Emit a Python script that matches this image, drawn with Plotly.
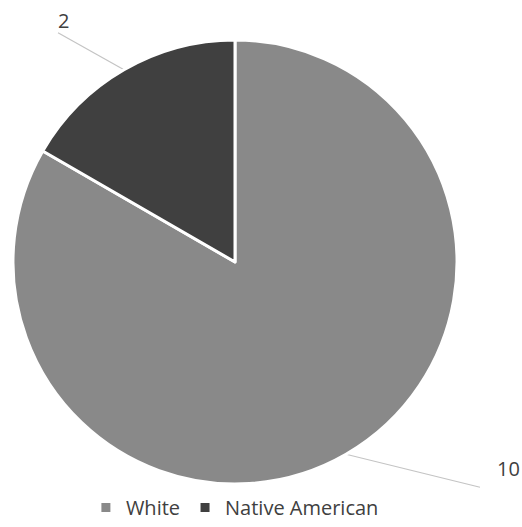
import math
import plotly.graph_objects as go

# ---- data ----
categories = ["White", "Native American"]
values = [10, 2]
colors = ["#898989", "#404040"]

# ---- geometry / style ----
W, H = 522, 527
CX, CY, R = 235, 262, 222          # pie centre and radius in px
FONT = "Open Sans"
TEXT_COLOR = "#404040"
LINE_COLOR = "#c4c4c4"
# leader line end offset (from slice edge) and text offset (from line end), px
LABEL_STYLE = {
    "White": {"line": (134, 33), "text": (28, -19)},
    "Native American": {"line": (-66, -37), "text": (5, -12)},
}

fig = go.Figure()

fig.add_trace(go.Pie(
    labels=categories,
    values=values,
    sort=False,
    direction="clockwise",
    rotation=0,
    marker=dict(colors=colors, line=dict(color="white", width=3)),
    textinfo="none",
    hoverinfo="label+value",
    domain=dict(x=[(CX - R) / W, (CX + R) / W],
                y=[(H - CY - R) / H, (H - CY + R) / H]),
    showlegend=True,
))

# data labels with leader lines, positioned from each slice's mid-angle
total = sum(values)
cum = 0
annotations = []
for cat, v in zip(categories, values):
    theta = 2 * math.pi * (cum + v / 2) / total
    cum += v
    ex = CX + R * math.sin(theta)
    ey = CY - R * math.cos(theta)
    st = LABEL_STYLE[cat]
    lx, ly = ex + st["line"][0], ey + st["line"][1]
    fig.add_trace(go.Scatter(
        x=[ex, lx], y=[ey, ly], mode="lines",
        line=dict(color=LINE_COLOR, width=1.2),
        hoverinfo="skip", showlegend=False,
        xaxis="x", yaxis="y",
    ))
    annotations.append(dict(
        x=lx + st["text"][0], y=ly + st["text"][1],
        xref="x", yref="y", text=str(v), showarrow=False,
        font=dict(family=FONT, size=20, color=TEXT_COLOR),
        xanchor="center", yanchor="middle",
    ))

fig.update_layout(
    width=W, height=H,
    margin=dict(l=0, r=0, t=0, b=0, autoexpand=False),
    paper_bgcolor="white", plot_bgcolor="rgba(0,0,0,0)",
    xaxis=dict(range=[0, W], visible=False, fixedrange=True, domain=[0, 1]),
    yaxis=dict(range=[H, 0], visible=False, fixedrange=True, domain=[0, 1]),
    annotations=annotations,
    legend=dict(
        orientation="h", x=0.45, xanchor="center",
        y=0, yanchor="bottom",
        font=dict(family=FONT, size=20, color=TEXT_COLOR),
        bgcolor="rgba(0,0,0,0)",
        traceorder="normal",
    ),
    font=dict(family=FONT, color=TEXT_COLOR),
)

fig.write_html(
    "out.html",
    config={"displayModeBar": False},
    post_script="document.body.style.margin='0';document.body.style.overflow='hidden';",
)
